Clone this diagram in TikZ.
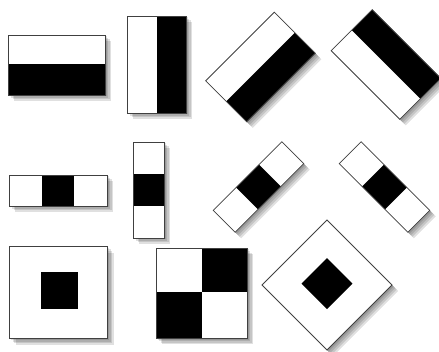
\documentclass[tikz,border=0pt]{standalone}
\usepackage{tikz}

\begin{document}
\begin{tikzpicture}[x=1pt,y=1pt,
  frame/.style={draw=black!75,line width=.8pt},
  blk/.style={fill=black},
  shade/.style={fill=black,opacity=.12}]
  \useasboundingbox (0,0) rectangle (439,351);
  % fila 1: rectangulo horizontal (blanco arriba, negro abajo)
  \begin{scope}[shift={(56.5,286)}]
    \foreach \d in {1.5,3,4.5,6} \fill[shade,shift={(\d,-\d)}] (-48.5,-30) rectangle (48.5,30);
    \fill[white] (-48.5,-30) rectangle (48.5,30); \fill[blk] (-48.5,-30) rectangle (48.5,1);
    \draw[frame] (-48.5,-30) rectangle (48.5,30);
  \end{scope}
  % rectangulo vertical (blanco izquierda, negro derecha)
  \begin{scope}[shift={(156.5,286.5)}]
    \foreach \d in {1.5,3,4.5,6} \fill[shade,shift={(\d,-\d)}] (-29.5,-48.5) rectangle (29.5,48.5);
    \fill[white] (-29.5,-48.5) rectangle (29.5,48.5); \fill[blk] (0.5,-48.5) rectangle (29.5,48.5);
    \draw[frame] (-29.5,-48.5) rectangle (29.5,48.5);
  \end{scope}
  % rectangulo girado +45
  \begin{scope}[shift={(260.5,284)}]
    \foreach \d in {1.5,3,4.5,6} \fill[shade,shift={(\d,-\d)},rotate=45] (-48.5,-29) rectangle (48.5,29);
    \begin{scope}[rotate=45]
      \fill[white] (-48.5,-29) rectangle (48.5,29); \fill[blk] (-48.5,-29) rectangle (48.5,0);
      \draw[frame] (-48.5,-29) rectangle (48.5,29);
    \end{scope}
  \end{scope}
  % rectangulo girado -45 (negro arriba)
  \begin{scope}[shift={(386,286.5)}]
    \foreach \d in {1.5,3,4.5,6} \fill[shade,shift={(\d,-\d)},rotate=-45] (-48.5,-29) rectangle (48.5,29);
    \begin{scope}[rotate=-45]
      \fill[white] (-48.5,-29) rectangle (48.5,29); \fill[blk] (-48.5,0) rectangle (48.5,29);
      \draw[frame] (-48.5,-29) rectangle (48.5,29);
    \end{scope}
  \end{scope}
  % fila 2: tres bandas horizontal
  \begin{scope}[shift={(58,160.5)}]
    \foreach \d in {1.5,3,4.5,6} \fill[shade,shift={(\d,-\d)}] (-49,-15.5) rectangle (49,15.5);
    \fill[white] (-49,-15.5) rectangle (49,15.5); \fill[blk] (-16.3,-15.5) rectangle (16.3,15.5);
    \draw[frame] (-49,-15.5) rectangle (49,15.5);
  \end{scope}
  % tres bandas vertical
  \begin{scope}[shift={(148.5,161)}]
    \foreach \d in {1.5,3,4.5,6} \fill[shade,shift={(\d,-\d)}] (-15.5,-48) rectangle (15.5,48);
    \fill[white] (-15.5,-48) rectangle (15.5,48); \fill[blk] (-15.5,-16) rectangle (15.5,16);
    \draw[frame] (-15.5,-48) rectangle (15.5,48);
  \end{scope}
  % tres bandas girado +45
  \begin{scope}[shift={(258.5,164)}]
    \foreach \d in {1.5,3,4.5,6} \fill[shade,shift={(\d,-\d)},rotate=45] (-48.5,-15.5) rectangle (48.5,15.5);
    \begin{scope}[rotate=45]
      \fill[white] (-48.5,-15.5) rectangle (48.5,15.5); \fill[blk] (-16.2,-15.5) rectangle (16.2,15.5);
      \draw[frame] (-48.5,-15.5) rectangle (48.5,15.5);
    \end{scope}
  \end{scope}
  % tres bandas girado -45
  \begin{scope}[shift={(384.5,164)}]
    \foreach \d in {1.5,3,4.5,6} \fill[shade,shift={(\d,-\d)},rotate=-45] (-48.5,-15.5) rectangle (48.5,15.5);
    \begin{scope}[rotate=-45]
      \fill[white] (-48.5,-15.5) rectangle (48.5,15.5); \fill[blk] (-16.2,-15.5) rectangle (16.2,15.5);
      \draw[frame] (-48.5,-15.5) rectangle (48.5,15.5);
    \end{scope}
  \end{scope}
  % fila 3: cuadro con centro negro
  \begin{scope}[shift={(58.5,58.5)}]
    \foreach \d in {1.5,3,4.5,6} \fill[shade,shift={(\d,-\d)}] (-49,-46) rectangle (49,46);
    \fill[white] (-49,-46) rectangle (49,46); \fill[blk] (-17.5,-16.5) rectangle (19.5,20.5);
    \draw[frame] (-49,-46) rectangle (49,46);
  \end{scope}
  % tablero 2x2
  \begin{scope}[shift={(201.5,58)}]
    \foreach \d in {1.5,3,4.5,6} \fill[shade,shift={(\d,-\d)}] (-45.5,-45) rectangle (45.5,45);
    \fill[white] (-45.5,-45) rectangle (45.5,45);
    \fill[blk] (0.5,1) rectangle (45.5,45); \fill[blk] (-45.5,-45) rectangle (0.5,1);
    \draw[frame] (-45.5,-45) rectangle (45.5,45);
  \end{scope}
  % cuadro girado 45 con centro negro
  \begin{scope}[shift={(327,66)}]
    \foreach \d in {1.5,3,4.5,6} \fill[shade,shift={(\d,-\d)},rotate=45] (-46,-46) rectangle (46,46);
    \begin{scope}[rotate=45]
      \fill[white] (-46,-46) rectangle (46,46); \fill[blk] (-17,-17) rectangle (19,19);
      \draw[frame] (-46,-46) rectangle (46,46);
    \end{scope}
  \end{scope}
\end{tikzpicture}
\end{document}
